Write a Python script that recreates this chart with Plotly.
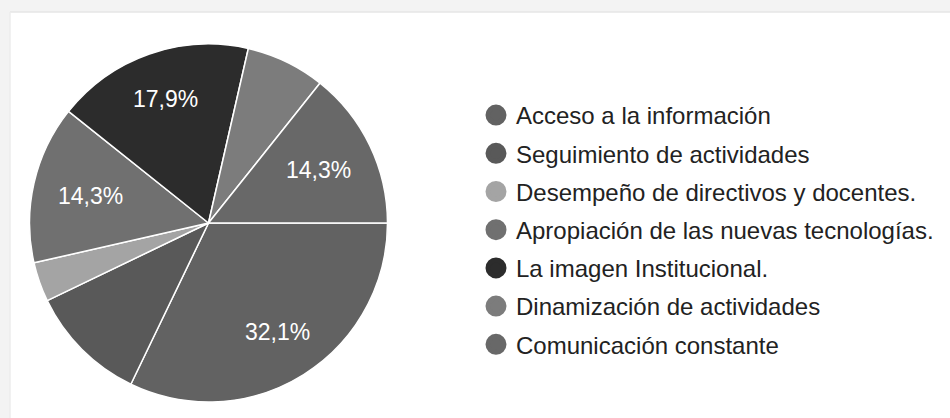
import math
import plotly.graph_objects as go

# ---- data ----
labels = [
    "Acceso a la información",
    "Seguimiento de actividades",
    "Desempeño de directivos y docentes.",
    "Apropiación de las nuevas tecnologías.",
    "La imagen Institucional.",
    "Dinamización de actividades",
    "Comunicación constante",
]
counts = [9, 3, 1, 4, 5, 2, 4]
show_label = [True, False, False, True, True, False, True]
colors = ["#626262", "#595959", "#a4a4a4", "#707070", "#2c2c2c", "#7c7c7c", "#686868"]

W, H = 950, 418
total = sum(counts)
texts = [
    (f"{c / total * 100:.1f}".replace(".", ",") + "%") if s else ""
    for c, s in zip(counts, show_label)
]

FONT = "Arial, 'Liberation Sans', sans-serif"
START_DEG = 90  # first slice starts at 3 o'clock, clockwise

fig = go.Figure()

# pie centre (208.5, 223) radius 179 in pixels
cx, cy, r = 208.5, 223, 179
fig.add_trace(go.Pie(
    labels=labels,
    values=counts,
    textinfo="none",
    marker=dict(colors=colors, line=dict(color="white", width=1.5)),
    sort=False,
    direction="clockwise",
    rotation=START_DEG,
    showlegend=False,
    hoverinfo="label+percent",
    domain=dict(x=[(cx - r) / W, (cx + r) / W], y=[(H - cy - r) / H, (H - cy + r) / H]),
))

# slice labels placed at mid-angle of each slice (computed from the data)
annotations = []
cum = 0
for c, t in zip(counts, texts):
    mid = math.radians(START_DEG + (cum + c / 2) / total * 360)
    cum += c
    if not t:
        continue
    k = 0.67 + 0.07 * math.cos(mid) ** 2
    px = cx + k * r * math.sin(mid)
    py = cy - k * r * math.cos(mid)
    annotations.append(dict(
        x=px / W, y=1 - py / H, xref="paper", yref="paper",
        text=t, showarrow=False, xanchor="center", yanchor="middle",
        font=dict(family=FONT, size=23, color="white"),
    ))

# legend entries with circle symbols
for i, (lab, col) in enumerate(zip(labels, colors)):
    fig.add_trace(go.Scatter(
        x=[None], y=[None], mode="markers", name=lab,
        legendgroup=f"g{i}",
        marker=dict(color=col, size=16, symbol="circle", line=dict(color=col, width=5)),
        showlegend=True,
    ))

shapes = [
    dict(type="rect", xref="paper", yref="paper", x0=0, x1=1, y0=1 - 12 / H, y1=1,
         fillcolor="#f3f3f3", line=dict(width=0), layer="above"),
    dict(type="rect", xref="paper", yref="paper", x0=0, x1=10 / W, y0=0, y1=1,
         fillcolor="#f3f3f3", line=dict(width=0), layer="above"),
    dict(type="line", xref="paper", yref="paper", x0=10 / W, x1=1, y0=1 - 12 / H, y1=1 - 12 / H,
         line=dict(color="#e6e6e6", width=1.5), layer="above"),
    dict(type="line", xref="paper", yref="paper", x0=10 / W, x1=10 / W, y0=0, y1=1 - 12 / H,
         line=dict(color="#ececec", width=1.5), layer="above"),
]

fig.update_layout(
    width=W, height=H,
    margin=dict(l=0, r=0, t=0, b=0),
    paper_bgcolor="white",
    plot_bgcolor="rgba(0,0,0,0)",
    xaxis=dict(visible=False),
    yaxis=dict(visible=False),
    shapes=shapes,
    annotations=annotations,
    showlegend=True,
    legend=dict(
        x=476 / W, xanchor="left",
        y=1 - 93 / H, yanchor="top",
        font=dict(family=FONT, size=24, color="#222222"),
        tracegroupgap=4,
        itemsizing="trace",
        bgcolor="rgba(0,0,0,0)",
    ),
)

fig.write_html(
    "out.html",
    config={"displayModeBar": False},
    post_script="document.body.style.margin='0';document.body.style.padding='0';",
)
